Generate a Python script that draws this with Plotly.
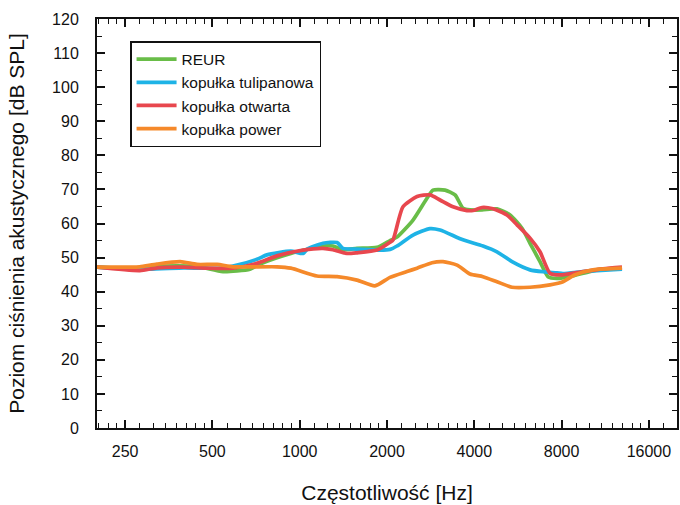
import plotly.graph_objects as go

# ---------------- data ----------------
reur_f = [200, 260, 281, 322, 442, 544, 674, 730, 932, 1203, 1302, 1410, 1576, 1847, 2048, 2165,
          2459, 2747, 2882, 3170, 3433, 3655, 3865, 4253, 4790, 5312, 5843, 6226, 6739, 7181,
          7712, 8551, 10600, 12925]
reur_v = [47.2, 46.6, 46.4, 47.4, 47.4, 45.9, 46.6, 48.1, 51.2, 53.4, 53.4, 52.3, 52.7, 53.0, 55.0, 56.0,
          61.0, 67.4, 69.8, 69.8, 68.4, 64.5, 64.0, 64.0, 64.3, 62.5, 58.6, 54.2, 48.8, 44.4,
          43.9, 44.4, 46.4, 46.9]

tul_f = [200, 300, 400, 544, 589, 712, 771, 932, 1027, 1060, 1203, 1345, 1410, 1576, 1891, 2048,
         2165, 2459, 2813, 3047, 3655, 4286, 4790, 5397, 6226, 6986, 7712, 8090, 9480, 10600, 12925]
tul_v = [47.2, 46.6, 47.0, 46.9, 47.5, 49.5, 50.8, 51.9, 51.2, 52.4, 54.2, 54.4, 52.7, 52.5, 52.2, 52.4,
         53.4, 56.6, 58.5, 58.1, 55.2, 53.4, 51.7, 48.8, 46.4, 45.8, 45.5, 45.3, 45.9, 46.2, 46.6]

otw_f = [200, 281, 322, 396, 479, 589, 712, 835, 1027, 1203, 1302, 1456, 1576, 1847, 2048, 2098,
         2271, 2539, 2813, 3047, 3378, 3774, 3958, 4253, 4640, 5184, 5617, 6226, 6739, 7296,
         7915, 9480, 11117, 12925]
otw_v = [47.2, 46.2, 47.0, 47.2, 46.9, 46.9, 48.3, 50.5, 52.2, 52.7, 52.3, 51.2, 51.4, 52.2, 54.5, 55.2,
         64.9, 67.9, 68.4, 66.9, 64.9, 63.8, 63.8, 64.7, 64.3, 62.5, 59.6, 55.7, 51.7, 45.4,
         44.9, 45.9, 46.7, 47.2]

pow_f = [200, 260, 281, 322, 387, 442, 519, 589, 835, 932, 1147, 1345, 1576, 1817, 2048, 2344,
         2539, 2859, 3120, 3489, 3865, 4286, 4790, 5397, 6226, 7296, 8090, 8863, 10270, 12925]
pow_v = [47.2, 47.2, 47.3, 48.1, 48.8, 48.0, 48.0, 47.3, 47.3, 46.9, 44.6, 44.4, 43.4, 41.7, 44.2, 45.9,
         46.9, 48.5, 48.8, 47.8, 45.2, 44.4, 42.9, 41.3, 41.3, 42.0, 42.9, 44.9, 46.4, 46.9]

names = ["REUR", "kopułka tulipanowa", "kopułka otwarta", "kopułka power"]
colors = ["#69bd48", "#1eb3e6", "#e8474e", "#f5892a"]

x_ticks = [250, 500, 1000, 2000, 4000, 8000, 16000]
x_tick_text = ["250", "500", "1000", "2000", "4000", "8000", "16000"]

# minor ticks: 7 linear subdivisions per octave
minor_x = []
for base in [125, 250, 500, 1000, 2000, 4000, 8000, 16000]:
    for k in range(1, 8):
        v = base + base / 8 * k
        if 200 < v < 20000:
            minor_x.append(v)

fig = go.Figure()
for f, v, n, c in zip([reur_f, tul_f, otw_f, pow_f], [reur_v, tul_v, otw_v, pow_v], names, colors):
    fig.add_trace(go.Scatter(x=f, y=v, name=n, mode="lines",
                             line=dict(color=c, width=3.7, shape="spline", smoothing=0.6)))

font_fam = "Arial, Liberation Sans, sans-serif"
fig.update_layout(
    width=680, height=505,
    margin=dict(l=97, r=3, t=19, b=77, autoexpand=False),
    paper_bgcolor="white", plot_bgcolor="white",
    font=dict(family=font_fam, color="#111111", size=16),
    showlegend=True,
    legend=dict(x=0.057, y=0.946, xanchor="left", yanchor="top",
                bordercolor="#111111", borderwidth=1.5, bgcolor="white",
                font=dict(size=15.5, family=font_fam), itemwidth=40, tracegroupgap=0),
    xaxis=dict(
        type="log", range=[2.30103, 4.30103], automargin=False,
        tickmode="array", tickvals=x_ticks, ticktext=x_tick_text,
        ticks="inside", ticklen=8, tickwidth=1.6, tickcolor="#111111",
        minor=dict(tickmode="array", tickvals=minor_x, ticks="inside", ticklen=5,
                   tickwidth=1.3, tickcolor="#111111", showgrid=False),
        showline=True, linewidth=2, linecolor="#111111", mirror="allticks",
        showgrid=False, zeroline=False,
        tickfont=dict(size=16), ticklabelstandoff=8,
        title=dict(text="Częstotliwość [Hz]", font=dict(size=21), standoff=26),
    ),
    yaxis=dict(
        range=[0, 120], dtick=10, tick0=0, automargin=False,
        ticks="inside", ticklen=8, tickwidth=1.6, tickcolor="#111111",
        minor=dict(tickmode="linear", tick0=0, dtick=5, ticks="inside", ticklen=5,
                   tickwidth=1.3, tickcolor="#111111", showgrid=False),
        showline=True, linewidth=2, linecolor="#111111", mirror="allticks",
        showgrid=False, zeroline=False,
        tickfont=dict(size=16), ticklabelstandoff=13,
        title=dict(text="Poziom ciśnienia akustycznego [dB SPL]", font=dict(size=21), standoff=22),
    ),
)

fig.write_html("out.html", config={"displayModeBar": False},
               post_script="document.body.style.margin='0';document.body.style.overflow='hidden';")
